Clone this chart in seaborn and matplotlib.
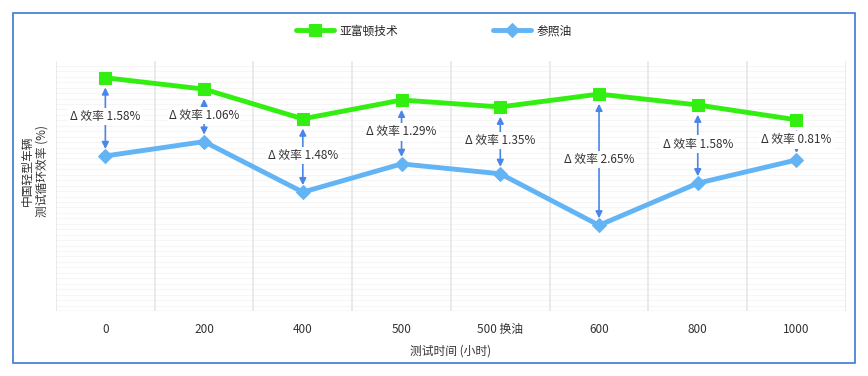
import matplotlib
matplotlib.use('Agg')
import matplotlib.pyplot as plt
import matplotlib.patches as mpatches
import numpy as np
import pandas as pd
import seaborn as sns

# data (relative efficiency units, % scale)
categories = ['0', '200', '400', '500', '500 换油', '600', '800', '1000']
afton = [4.71, 4.48, 3.88, 4.26, 4.12, 4.38, 4.16, 3.86]
reference = [3.13, 3.42, 2.40, 2.97, 2.77, 1.73, 2.58, 3.05]
deltas = ['1.58%', '1.06%', '1.48%', '1.29%', '1.35%', '2.65%', '1.58%', '0.81%']

sns.set_style('white')
plt.rcParams['font.family'] = ['Noto Sans CJK SC', 'DejaVu Sans']

green = '#33ee11'
blue = '#62b4f5'
arrow_blue = '#4a86e8'

df = pd.DataFrame({'pos': np.arange(len(categories)), 'afton': afton, 'ref': reference})

fig = plt.figure(figsize=(8.68, 3.76), dpi=100)
ax = fig.add_axes([0.0645, 0.173, 0.910, 0.665])

sns.lineplot(data=df, x='pos', y='afton', ax=ax, color=green, lw=3.5, marker='s',
             markersize=9, markeredgecolor=green, label='亚富顿技术', zorder=4)
sns.lineplot(data=df, x='pos', y='ref', ax=ax, color=blue, lw=3.5, marker='D',
             markersize=7, markeredgecolor=blue, label='参照油', zorder=4)

# delta arrows + labels
for i in range(len(categories)):
    ax.annotate('', xy=(i, afton[i]), xytext=(i, reference[i]),
                arrowprops=dict(arrowstyle='<|-|>', color=arrow_blue, lw=1.2,
                                mutation_scale=10, shrinkA=5, shrinkB=7), zorder=3)
    mid = (afton[i] + reference[i]) / 2
    ax.text(i, mid, 'Δ 效率 ' + deltas[i], ha='center', va='center', fontsize=8.5,
            color='#333333', zorder=5,
            bbox=dict(facecolor='white', edgecolor='none', pad=1.5))

ax.set_xlim(-0.5, len(categories) - 0.5)
ax.set_ylim(0, 5.05)
ax.set_xticks(np.arange(len(categories)))
ax.set_xticklabels(categories, fontsize=8.5, color='#333333')
ax.set_yticks([])
ax.tick_params(axis='x', length=0, pad=9)

# grid: vertical lines at category boundaries, faint horizontal lines
for b in np.arange(-0.5, len(categories), 1):
    ax.axvline(b, color='#e6e6e6', lw=1.2, zorder=1)
for h in np.arange(0, 5.05, 0.11):
    ax.axhline(h, color='#f6f6f6', lw=0.8, zorder=0)
for s in ax.spines.values():
    s.set_visible(False)
ax.axhline(0, color='#e6e6e6', lw=1.0, zorder=1)

ax.set_xlabel('测试时间 (小时)', fontsize=8.5, color='#333333', labelpad=6)
ax.set_ylabel('中国轻型车辆\n测试循环效率 (%)', fontsize=8.5, color='#333333')
ax.yaxis.set_label_coords(-0.009, 0.56)

ax.get_legend().remove()
handles, labels = ax.get_legend_handles_labels()
fig.legend(handles, labels, loc='center', bbox_to_anchor=(0.5, 0.918), ncol=2,
           frameon=False, fontsize=8.5, columnspacing=8, handlelength=3.2,
           handletextpad=0.5)

# blue frame around the figure
fig.patches.append(mpatches.Rectangle((0.015, 0.035), 0.970, 0.93,
                                      transform=fig.transFigure, fill=False,
                                      edgecolor='#3a78d8', lw=1.2))

plt.savefig('out.png', dpi=100)
plt.close()
